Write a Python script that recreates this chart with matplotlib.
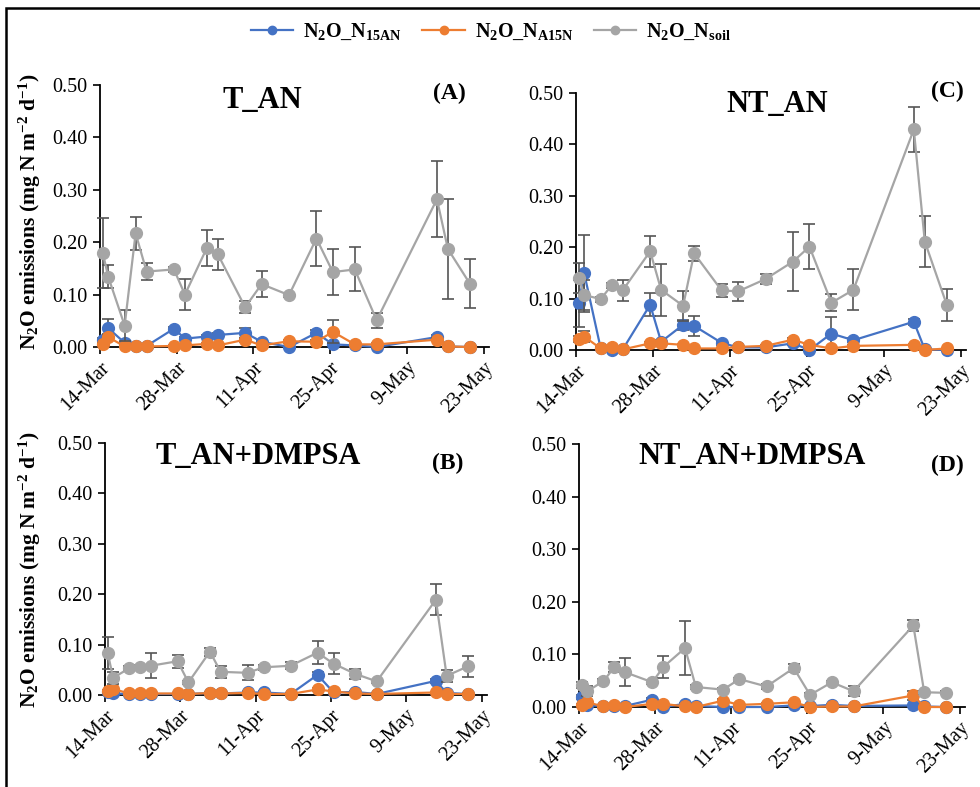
import matplotlib
matplotlib.use("Agg")
import matplotlib.pyplot as plt
from matplotlib.patches import Rectangle
from matplotlib.lines import Line2D
import pandas as pd

plt.rcParams['font.family'] = ['Liberation Serif', 'DejaVu Serif']
plt.rcParams['mathtext.fontset'] = 'custom'
plt.rcParams['mathtext.rm'] = 'Liberation Serif'
plt.rcParams['mathtext.bf'] = 'Liberation Serif:bold'
plt.rcParams['mathtext.it'] = 'Liberation Serif:italic'

# ---------------- data ----------------
sampling_dates = ['14-Mar', '15-Mar', '18-Mar', '20-Mar', '22-Mar', '27-Mar', '29-Mar',
                  '2-Apr', '4-Apr', '9-Apr', '12-Apr', '17-Apr', '22-Apr', '25-Apr',
                  '29-Apr', '3-May', '14-May', '16-May', '20-May']
tick_labels = ['14-Mar', '28-Mar', '11-Apr', '25-Apr', '9-May', '23-May']
series_names = [r'$\mathbf{N_2O\_N_{15AN}}$', r'$\mathbf{N_2O\_N_{A15N}}$', r'$\mathbf{N_2O\_N_{soil}}$']
panel_titles = ['T_AN', 'NT_AN', 'T_AN+DMPSA', 'NT_AN+DMPSA']
panel_letters = ['(A)', '(C)', '(B)', '(D)']

# Panel A: T_AN
A_15AN = [0.013, 0.036, 0.008, 0.002, 0.002, 0.035, 0.016, 0.020, 0.023, 0.027, 0.010, 0.000, 0.027, 0.005, 0.003, 0.000, 0.019, 0.001, 0.000]
A_15AN_err = [0.005, 0.018, 0.002, 0.001, 0.001, 0.004, 0.003, 0.003, 0.003, 0.010, 0.003, 0.001, 0.005, 0.002, 0.001, 0.001, 0.003, 0.001, 0.000]
A_A15N = [0.005, 0.019, 0.001, 0.001, 0.001, 0.002, 0.003, 0.006, 0.003, 0.014, 0.003, 0.011, 0.010, 0.029, 0.005, 0.005, 0.014, 0.001, 0.000]
A_A15N_err = [0.002, 0.005, 0.001, 0.001, 0.001, 0.001, 0.001, 0.002, 0.001, 0.004, 0.001, 0.003, 0.003, 0.022, 0.002, 0.002, 0.003, 0.001, 0.000]
A_soil = [0.180, 0.134, 0.041, 0.217, 0.144, 0.148, 0.100, 0.189, 0.177, 0.076, 0.120, 0.099, 0.207, 0.143, 0.148, 0.051, 0.282, 0.187, 0.121]
A_soil_err = [0.067, 0.022, 0.030, 0.032, 0.016, 0.004, 0.029, 0.034, 0.030, 0.012, 0.025, 0.004, 0.052, 0.044, 0.042, 0.014, 0.073, 0.095, 0.046]

# Panel C: NT_AN
C_15AN = [0.091, 0.149, 0.003, 0.000, 0.001, 0.088, 0.016, 0.049, 0.047, 0.014, 0.005, 0.005, 0.013, 0.000, 0.032, 0.019, 0.055, 0.001, 0.000]
C_15AN_err = [0.046, 0.075, 0.002, 0.001, 0.001, 0.022, 0.004, 0.010, 0.019, 0.004, 0.002, 0.002, 0.004, 0.001, 0.032, 0.004, 0.006, 0.001, 0.000]
C_A15N = [0.021, 0.026, 0.003, 0.005, 0.001, 0.013, 0.013, 0.010, 0.003, 0.003, 0.006, 0.008, 0.020, 0.010, 0.003, 0.008, 0.010, 0.000, 0.003]
C_A15N_err = [0.006, 0.010, 0.001, 0.001, 0.001, 0.003, 0.003, 0.002, 0.001, 0.001, 0.002, 0.002, 0.004, 0.003, 0.001, 0.002, 0.002, 0.000, 0.001]
C_soil = [0.140, 0.107, 0.099, 0.126, 0.116, 0.192, 0.117, 0.086, 0.188, 0.116, 0.114, 0.138, 0.172, 0.201, 0.092, 0.117, 0.429, 0.211, 0.088]
C_soil_err = [0.030, 0.030, 0.005, 0.005, 0.020, 0.030, 0.050, 0.029, 0.015, 0.013, 0.018, 0.010, 0.057, 0.044, 0.016, 0.040, 0.044, 0.050, 0.031]

# Panel B: T_AN+DMPSA
B_15AN = [0.005, 0.003, 0.002, 0.002, 0.002, 0.002, 0.002, 0.004, 0.003, 0.005, 0.005, 0.002, 0.040, 0.005, 0.006, 0.002, 0.028, 0.004, 0.002]
B_15AN_err = [0.002, 0.001, 0.001, 0.001, 0.001, 0.001, 0.001, 0.001, 0.001, 0.002, 0.002, 0.001, 0.006, 0.002, 0.002, 0.001, 0.004, 0.001, 0.001]
B_A15N = [0.007, 0.012, 0.003, 0.003, 0.003, 0.003, 0.002, 0.004, 0.003, 0.004, 0.002, 0.002, 0.011, 0.007, 0.003, 0.002, 0.005, 0.002, 0.002]
B_A15N_err = [0.002, 0.003, 0.001, 0.001, 0.001, 0.001, 0.001, 0.001, 0.001, 0.001, 0.001, 0.001, 0.003, 0.002, 0.001, 0.001, 0.001, 0.001, 0.001]
B_soil = [0.084, 0.034, 0.053, 0.055, 0.058, 0.067, 0.025, 0.086, 0.046, 0.044, 0.055, 0.058, 0.084, 0.062, 0.042, 0.027, 0.189, 0.038, 0.057]
B_soil_err = [0.032, 0.012, 0.004, 0.004, 0.025, 0.013, 0.003, 0.008, 0.012, 0.015, 0.005, 0.007, 0.023, 0.021, 0.010, 0.003, 0.031, 0.012, 0.021]

# Panel D: NT_AN+DMPSA
D_15AN = [0.019, 0.003, 0.002, 0.002, 0.002, 0.014, 0.000, 0.006, 0.002, 0.000, 0.000, 0.000, 0.003, 0.002, 0.004, 0.002, 0.003, 0.001, 0.000]
D_15AN_err = [0.004, 0.001, 0.001, 0.001, 0.001, 0.003, 0.001, 0.002, 0.001, 0.000, 0.000, 0.000, 0.001, 0.001, 0.001, 0.001, 0.001, 0.001, 0.000]
D_A15N = [0.004, 0.009, 0.001, 0.004, 0.000, 0.006, 0.006, 0.001, 0.000, 0.012, 0.004, 0.006, 0.009, 0.000, 0.001, 0.001, 0.022, 0.000, 0.000]
D_A15N_err = [0.001, 0.002, 0.001, 0.001, 0.000, 0.002, 0.002, 0.001, 0.000, 0.003, 0.001, 0.002, 0.002, 0.000, 0.001, 0.001, 0.008, 0.000, 0.000]
D_soil = [0.042, 0.030, 0.049, 0.076, 0.066, 0.047, 0.076, 0.112, 0.038, 0.033, 0.053, 0.039, 0.074, 0.023, 0.047, 0.030, 0.155, 0.028, 0.027]
D_soil_err = [0.006, 0.010, 0.005, 0.010, 0.027, 0.004, 0.021, 0.052, 0.003, 0.003, 0.003, 0.004, 0.007, 0.003, 0.003, 0.010, 0.010, 0.003, 0.003]

panels = [
    (A_15AN, A_15AN_err, A_A15N, A_A15N_err, A_soil, A_soil_err),
    (C_15AN, C_15AN_err, C_A15N, C_A15N_err, C_soil, C_soil_err),
    (B_15AN, B_15AN_err, B_A15N, B_A15N_err, B_soil, B_soil_err),
    (D_15AN, D_15AN_err, D_A15N, D_A15N_err, D_soil, D_soil_err),
]

colors = ['#4472C4', '#ED7D31', '#A5A5A5']
err_color = '#555555'

# ---------------- figure ----------------
W, H = 980, 787
fig = plt.figure(figsize=(W / 100, H / 100), dpi=100)
fig.patch.set_facecolor('white')

def px_axes(left, top, right, bottom):
    return fig.add_axes([left / W, 1 - bottom / H, (right - left) / W, (bottom - top) / H])

# axes boxes in pixels: left, top(0.50), right, bottom(0.00)
boxes = [(100, 85, 489, 347), (576, 93, 966, 350), (105, 443, 487, 695), (579, 444, 965, 707)]
title_pos = [(262, 101), (777, 104), (258, 456), (752, 457)]
letter_pos = [(449, 93), (947, 91), (448, 463), (947, 465)]

def to_dt(s):
    return pd.to_datetime(s + '-2018', format='%d-%b-%Y')

xdates = [to_dt(d) + pd.Timedelta(hours=12) for d in sampling_dates]
xticks = [to_dt(t) for t in tick_labels]
xmin = to_dt(tick_labels[0])
xmax = to_dt(tick_labels[-1]) + pd.Timedelta(days=1)
yticks = [0, 0.1, 0.2, 0.3, 0.4, 0.5]

for i, (box, data) in enumerate(zip(boxes, panels)):
    ax = px_axes(*box)
    v1, e1, v2, e2, v3, e3 = data
    for k, (v, e) in enumerate([(v1, e1), (v2, e2), (v3, e3)]):
        ax.errorbar(xdates, v, yerr=e, color=colors[k], ecolor=err_color,
                    elinewidth=1.2, capsize=4, capthick=1.2,
                    marker='o', markersize=8.5, lw=1.6, zorder=3 + k,
                    clip_on=False)
    ax.set_xlim(xmin, xmax)
    ax.set_ylim(0, 0.5)
    ax.set_yticks(yticks)
    ax.set_yticklabels(['%.2f' % t for t in yticks])
    ax.set_xticks(xticks)
    ax.set_xticklabels(tick_labels, rotation=45, ha='right', rotation_mode='anchor')
    for s in ['top', 'right']:
        ax.spines[s].set_visible(False)
    for s in ['left', 'bottom']:
        ax.spines[s].set_linewidth(1.3)
        ax.spines[s].set_color('black')
    ax.tick_params(axis='both', direction='out', length=5, width=1.2, labelsize=14.5, colors='black')
    ax.tick_params(axis='y', pad=4)
    ax.tick_params(axis='x', pad=3)
    ax.patch.set_alpha(0)
    fig.text(title_pos[i][0] / W, 1 - title_pos[i][1] / H, panel_titles[i],
             fontsize=22, fontweight='bold', ha='center', va='center')
    fig.text(letter_pos[i][0] / W, 1 - letter_pos[i][1] / H, panel_letters[i],
             fontsize=17, fontweight='bold', ha='center', va='center')

ylab = r'$\mathbf{N_2O\ emissions\ (mg\ N\ m^{-2}\ d^{-1})}$'
fig.text(30 / W, 1 - 212 / H, ylab, rotation=90, fontsize=15.5, ha='center', va='center')
fig.text(30 / W, 1 - 570 / H, ylab, rotation=90, fontsize=15.5, ha='center', va='center')

# legend
leg_handles = [Line2D([], [], color=c, marker='o', markersize=6, lw=1.6) for c in colors]
fig.legend(leg_handles, series_names, loc='center', bbox_to_anchor=(491 / W, 1 - 32 / H),
           ncol=3, frameon=False, fontsize=14.5, handlelength=2.1, handletextpad=0.5,
           columnspacing=1.0)

# outer border (extends past right/bottom edges)
fig.patches.append(Rectangle((6 / W, -0.05), 1.2, 1 - 8 / H + 0.05, transform=fig.transFigure,
                             fill=False, edgecolor='black', linewidth=1.8, zorder=10))

fig.savefig('out.png', dpi=100, facecolor='white')
